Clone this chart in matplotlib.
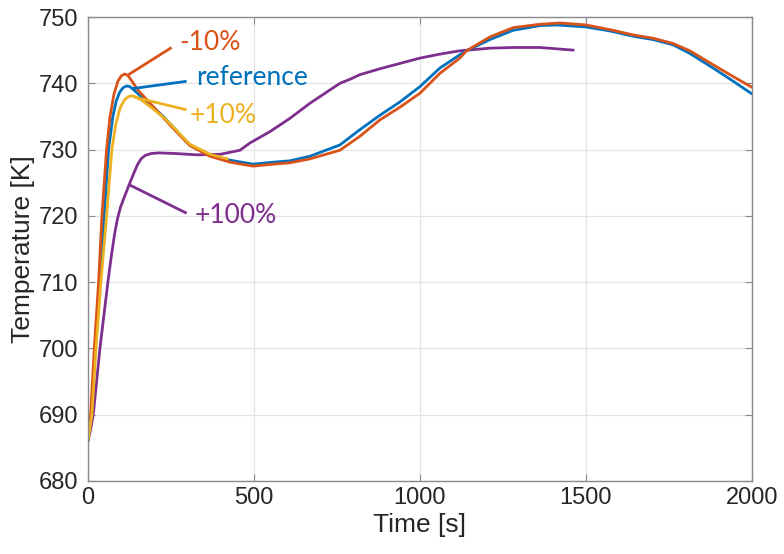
import matplotlib
matplotlib.use("Agg")
import matplotlib.pyplot as plt

# Temperature histories for the heat-transfer sensitivity runs
t_ref = [0, 10, 22, 36, 49, 62, 75, 85, 95, 105, 116, 126, 138, 160, 187, 229, 247, 307,
         367, 428, 497, 558, 608, 669, 759, 819, 880, 940, 1000, 1060, 1120, 1140, 1211,
         1281, 1361, 1412, 1500, 1572, 1642, 1702, 1763, 1813, 1883, 1944, 2000]
T_ref = [686.0, 690.0, 700.0, 710.0, 720.0, 730.0, 735.0, 737.3, 738.6, 739.3, 739.6,
         739.5, 739.0, 738.0, 736.8, 734.9, 733.9, 730.7, 729.2, 728.4, 727.8, 728.1,
         728.3, 729.0, 730.7, 733.0, 735.2, 737.2, 739.5, 742.3, 744.3, 744.9, 746.6,
         748.0, 748.7, 748.8, 748.5, 747.9, 747.1, 746.6, 745.8, 744.5, 742.3, 740.3, 738.4]

t_m10 = [0, 8, 19, 32, 42, 56, 66, 78, 90, 100, 110, 120, 130, 150, 187, 229, 247, 307,
         367, 428, 497, 558, 608, 669, 759, 819, 880, 940, 1000, 1060, 1120, 1140, 1211,
         1281, 1361, 1421, 1500, 1572, 1642, 1702, 1763, 1813, 1883, 1944, 2000]
T_m10 = [686.0, 690.0, 700.0, 710.0, 720.0, 730.0, 734.8, 738.3, 740.3, 741.1, 741.4,
         741.2, 740.5, 739.0, 737.0, 734.7, 733.7, 730.6, 729.0, 728.1, 727.5, 727.8,
         728.0, 728.6, 729.9, 732.0, 734.5, 736.4, 738.5, 741.5, 743.8, 744.9, 747.0,
         748.4, 748.9, 749.1, 748.8, 748.1, 747.3, 746.8, 746.0, 744.9, 742.8, 741.0, 739.4]

t_p10 = [0, 12, 24, 39, 56, 72, 84, 97, 110, 122, 134, 146, 160, 187, 229, 247, 307, 367, 420]
T_p10 = [686.0, 690.0, 700.0, 710.0, 720.0, 730.0, 733.9, 736.3, 737.5, 738.0, 738.1,
         737.9, 737.5, 736.5, 734.8, 733.9, 730.8, 729.3, 728.6]

t_p100 = [0, 8, 16, 26, 36, 48, 60, 70, 80, 89, 98, 110, 124, 137, 149, 160, 172, 190,
          214, 265, 330, 400, 458, 488, 548, 608, 669, 759, 789, 819, 880, 940, 1000,
          1060, 1120, 1211, 1281, 1361, 1462]
T_p100 = [686.0, 687.8, 690.0, 695.0, 700.0, 705.0, 710.0, 713.8, 717.2, 719.6, 721.3,
          722.9, 724.7, 726.3, 727.7, 728.6, 729.1, 729.4, 729.5, 729.4, 729.2, 729.3,
          729.9, 731.0, 732.7, 734.7, 737.0, 740.0, 740.6, 741.3, 742.2, 743.0, 743.8,
          744.4, 744.9, 745.3, 745.4, 745.4, 745.0]

labels = ["-10%", "reference", "+10%", "+100%"]
colors = ["#D95319", "#0072BD", "#EDB120", "#7E2F8E"]
# leader line start (on curve), leader line end, label anchor
leader_start = [(122, 741.3), (134, 739.2), (140, 737.9), (124, 724.7)]
leader_end = [(252, 745.4), (297, 740.3), (297, 736.0), (297, 720.4)]
label_pos = [(275, 746.2), (325, 740.8), (305, 735.2), (320, 720.1)]

x_ticks = [0, 500, 1000, 1500, 2000]
y_ticks = [680, 690, 700, 710, 720, 730, 740, 750]

tick_font = ["Liberation Sans", "DejaVu Sans"]
note_font = ["Lato", "DejaVu Sans"]

fig = plt.figure(figsize=(7.84, 5.54), dpi=100)
ax = fig.add_axes([0.1122, 0.1318, 0.8469, 0.8375])

lw = 2.0
ax.plot(t_p100, T_p100, color=colors[3], lw=lw, solid_capstyle="round")
ax.plot(t_ref, T_ref, color=colors[1], lw=lw, solid_capstyle="round")
ax.plot(t_m10, T_m10, color=colors[0], lw=lw, solid_capstyle="round")
ax.plot(t_p10, T_p10, color=colors[2], lw=lw, solid_capstyle="round")

for lab, c, s, e, p in zip(labels, colors, leader_start, leader_end, label_pos):
    ax.plot([s[0], e[0]], [s[1], e[1]], color=c, lw=lw, solid_capstyle="butt")
    ax.text(p[0], p[1], lab, color=c, fontsize=19, family=note_font,
            ha="left", va="center")

ax.set_xlim(0, 2000)
ax.set_ylim(680, 750)
ax.set_xticks(x_ticks)
ax.set_yticks(y_ticks)
ax.grid(True, color="#e4e4e4", lw=0.9)
ax.set_axisbelow(True)

for sp in ax.spines.values():
    sp.set_color("#8a8a8a")
    sp.set_linewidth(1.0)

ax.tick_params(axis="both", direction="in", length=5, width=0.8, color="#8a8a8a",
               top=True, right=True, labelsize=17, labelcolor="#262626")
ax.tick_params(axis="x", pad=4)
ax.tick_params(axis="y", pad=7)
for lbl in ax.get_xticklabels() + ax.get_yticklabels():
    lbl.set_family(tick_font)

ax.set_xlabel("Time [s]", fontsize=19, family=tick_font, color="#262626", labelpad=3)
ax.set_ylabel("Temperature [K]", fontsize=19, family=tick_font, color="#262626", labelpad=3)

fig.savefig("out.png", dpi=100)
